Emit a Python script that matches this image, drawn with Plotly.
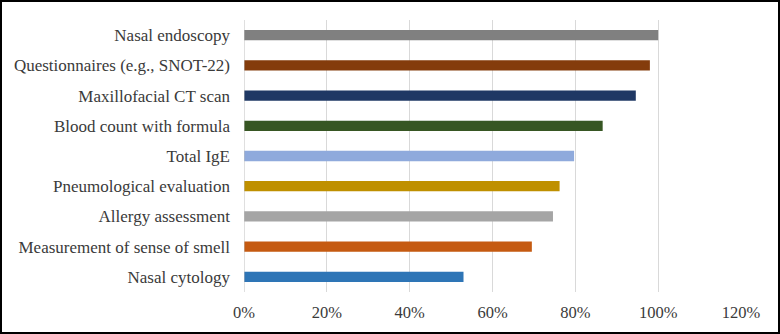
import plotly.graph_objects as go

# Share of respondents using each diagnostic tool (bottom to top)
categories = [
    "Nasal cytology",
    "Measurement of sense of smell",
    "Allergy assessment",
    "Pneumological evaluation",
    "Total IgE",
    "Blood count with formula",
    "Maxillofacial CT scan",
    "Questionnaires (e.g., SNOT-22)",
    "Nasal endoscopy",
]
values = [0.53, 0.695, 0.746, 0.762, 0.797, 0.866, 0.946, 0.98, 1.0]
bar_colors = [
    "#2e75b6",
    "#c55a11",
    "#a5a5a5",
    "#bf9000",
    "#8faadc",
    "#375623",
    "#1f3864",
    "#843c0c",
    "#808080",
]
x_ticks = [0, 0.2, 0.4, 0.6, 0.8, 1.0, 1.2]
x_tick_labels = ["0%", "20%", "40%", "60%", "80%", "100%", "120%"]

W, H = 780, 334
ML, MR, MT, MB = 244, 39, 20, 42

fig = go.Figure(
    go.Bar(
        x=values,
        y=categories,
        orientation="h",
        marker=dict(color=bar_colors, line=dict(width=0)),
        hoverinfo="x+y",
    )
)

pw = W - ML - MR
ph = H - MT - MB

fig.update_layout(
    width=W,
    height=H,
    margin=dict(l=ML, r=MR, t=MT, b=MB, pad=0),
    paper_bgcolor="white",
    plot_bgcolor="white",
    bargap=0.66,
    showlegend=False,
    font=dict(family="Liberation Serif, Times New Roman, serif", size=16, color="#3a3a3a"),
    xaxis=dict(
        range=[0, 1.2],
        tickvals=x_ticks,
        ticktext=x_tick_labels,
        tickfont=dict(size=16.5),
        showgrid=True,
        gridcolor="#d9d9d9",
        gridwidth=1,
        zeroline=False,
        showline=False,
        ticks="",
        ticklabelstandoff=8,
        fixedrange=True,
    ),
    yaxis=dict(
        categoryorder="array",
        categoryarray=categories,
        tickfont=dict(size=17),
        showgrid=False,
        zeroline=False,
        showline=False,
        ticks="",
        ticklabelstandoff=13,
        fixedrange=True,
    ),
    shapes=[
        # vertical axis line at 0%
        dict(
            type="line", xref="x", yref="paper",
            x0=0, x1=0, y0=0, y1=1,
            line=dict(color="#bfbfbf", width=1),
            layer="above",
        ),
        # outer chart frame
        dict(
            type="rect", xref="paper", yref="paper",
            x0=(1 - ML) / pw, x1=(W - 1 - ML) / pw,
            y0=(1 - MB) / ph, y1=(H - 1 - MB) / ph,
            line=dict(color="black", width=2),
            fillcolor="rgba(0,0,0,0)",
            layer="above",
        ),
    ],
)

fig.write_html("out.html", config={"displayModeBar": False})
